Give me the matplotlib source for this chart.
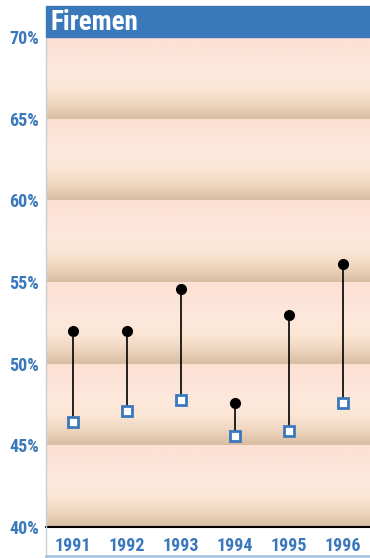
import numpy as np
import matplotlib
matplotlib.use("Agg")
import matplotlib.pyplot as plt
from matplotlib.colors import LinearSegmentedColormap
from matplotlib.patches import Rectangle
from matplotlib.lines import Line2D
from matplotlib import font_manager

years = ["1991", "1992", "1993", "1994", "1995", "1996"]
high = [52.0, 52.0, 54.6, 47.6, 53.0, 56.1]
low = [46.4, 47.1, 47.8, 45.6, 45.9, 47.6]
yticks = [40, 45, 50, 55, 60, 65, 70]
ytick_labels = ["40%", "45%", "50%", "55%", "60%", "65%", "70%"]
title = "Firemen"

names = {f.name for f in font_manager.fontManager.ttflist}
cands = ["Liberation Sans Narrow", "Roboto Condensed", "Open Sans Condensed", "DejaVu Sans"]
fam = [c for c in cands if c in names] or ["DejaVu Sans"]
stretch = "condensed"

W, H = 370, 558
fig = plt.figure(figsize=(W / 100, H / 100), dpi=100)
x0, x1 = 46 / W, 1.0
ytop, ybot = 37, 527
ax = fig.add_axes([x0, (H - ybot) / H, x1 - x0, (ybot - ytop) / H])

blue = "#3a78bc"

cmap = LinearSegmentedColormap.from_list("band", [
    (0.0, (253/255, 224/255, 212/255)),
    (0.45, (253/255, 232/255, 220/255)),
    (0.65, (251/255, 229/255, 212/255)),
    (0.82, (238/255, 214/255, 190/255)),
    (1.0, (216/255, 189/255, 163/255)),
])
grad = np.linspace(0, 1, 200).reshape(-1, 1)
for lo, hi in zip(yticks[:-1], yticks[1:]):
    ax.imshow(grad, cmap=cmap, aspect="auto", origin="upper",
              extent=[-0.5, 5.5, lo, hi], zorder=0, interpolation="bilinear")

xs = np.arange(len(years))
for x, h, l in zip(xs, high, low):
    ax.plot([x, x], [l, h], color="black", lw=1.2, zorder=2)
ax.plot(xs, high, "o", color="black", ms=7, zorder=3, linestyle="none")
ax.plot(xs, low, "s", mfc="white", mec=blue, mew=2, ms=7, zorder=3, linestyle="none")

ax.set_xlim(-0.5, 5.5)
ax.set_ylim(40, 70)
ax.set_yticks(yticks)
ax.set_yticklabels(ytick_labels)
ax.set_xticks(xs)
ax.set_xticklabels(years)
ax.tick_params(axis="y", length=0, pad=5)
ax.tick_params(axis="x", length=0, pad=7)
for lab in ax.get_yticklabels() + ax.get_xticklabels():
    lab.set_family(fam)
    lab.set_stretch(stretch)
    lab.set_fontweight("bold")
    lab.set_color(blue)
    lab.set_fontsize(13)
for s in ["top", "right", "left"]:
    ax.spines[s].set_visible(False)
ax.spines["bottom"].set_color("black")
ax.spines["bottom"].set_linewidth(1.5)

fig.add_artist(Rectangle((x0, (H - 37) / H), 1 - x0, 31 / H, transform=fig.transFigure,
                         color=blue, zorder=5))
fig.text(x0 + 5 / W, (H - 22) / H, title, color="white", fontsize=19.5, fontweight="bold",
         family=fam, stretch=stretch, va="center", ha="left", zorder=6)
fig.add_artist(Line2D([x0, x0], [2 / H, (H - 37) / H], transform=fig.transFigure,
                      color="#c8cdd6", lw=1))
fig.add_artist(Line2D([x0, 1], [2 / H, 2 / H], transform=fig.transFigure,
                      color="#a9c4e4", lw=2))

fig.savefig("out.png", dpi=100)
